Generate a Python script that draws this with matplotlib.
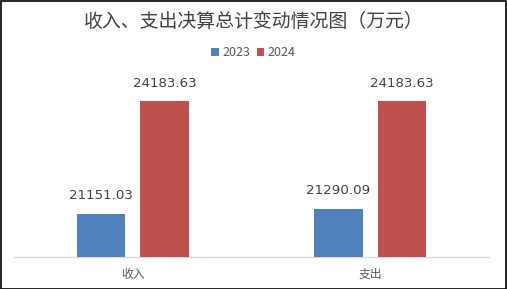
import matplotlib
matplotlib.use("Agg")
import matplotlib.pyplot as plt
from matplotlib.patches import Rectangle
import numpy as np

plt.rcParams['font.family'] = ['Noto Sans CJK SC', 'DejaVu Sans']

categories = ["收入", "支出"]
series_names = ["2023", "2024"]
values_2023 = [21151.03, 21290.09]
values_2024 = [24183.63, 24183.63]
colors = ["#4F81BD", "#C0504D"]
title = "收入、支出决算总计变动情况图（万元）"

W, H = 507, 289
fig = plt.figure(figsize=(W / 100, H / 100), dpi=100)
fig.patch.set_facecolor("white")
fig.add_artist(Rectangle((0.5 / W, 0.5 / H), 1 - 1.5 / W, 1 - 1.5 / H, transform=fig.transFigure,
                         fill=False, edgecolor="black", linewidth=1.2))

ax = fig.add_axes([14 / W, (H - 257) / H, (489 - 14) / W, (257 - 71) / H])
x = np.arange(len(categories))
bw = 0.204
off = 0.134
bars1 = ax.bar(x - off, values_2023, bw, color=colors[0], label=series_names[0], zorder=3)
bars2 = ax.bar(x + off, values_2024, bw, color=colors[1], label=series_names[1], zorder=3)
ax.set_ylim(20000, 25000)
ax.set_xlim(-0.5, 1.5)
for bars, vals in ((bars1, values_2023), (bars2, values_2024)):
    for b, v in zip(bars, vals):
        ax.annotate(f"{v:.2f}", (b.get_x() + b.get_width() / 2, v), xytext=(0, 8.5),
                    textcoords="offset points", ha="center", va="bottom",
                    fontsize=9.6, color="#404040", family="DejaVu Sans")

for s in ("top", "right", "left"):
    ax.spines[s].set_visible(False)
ax.spines["bottom"].set_color("#D9D9D9")
ax.spines["bottom"].set_linewidth(1)
ax.set_yticks([])
ax.set_xticks(x)
ax.set_xticklabels(categories, fontsize=8.5, color="#595959")
ax.tick_params(axis="x", length=0, pad=8)

fig.text(0.5, 1 - 21 / H, title, ha="center", va="center", fontsize=13.6, color="#404040")
leg = fig.legend(handles=[bars1, bars2], labels=series_names, loc="center",
                 bbox_to_anchor=(0.5, 1 - 53 / H), ncol=2, frameon=False,
                 fontsize=9, handlelength=0.6, handleheight=0.6, handletextpad=0.3,
                 columnspacing=0.5, labelcolor="#595959")

fig.savefig("out.png", dpi=100, facecolor="white")
